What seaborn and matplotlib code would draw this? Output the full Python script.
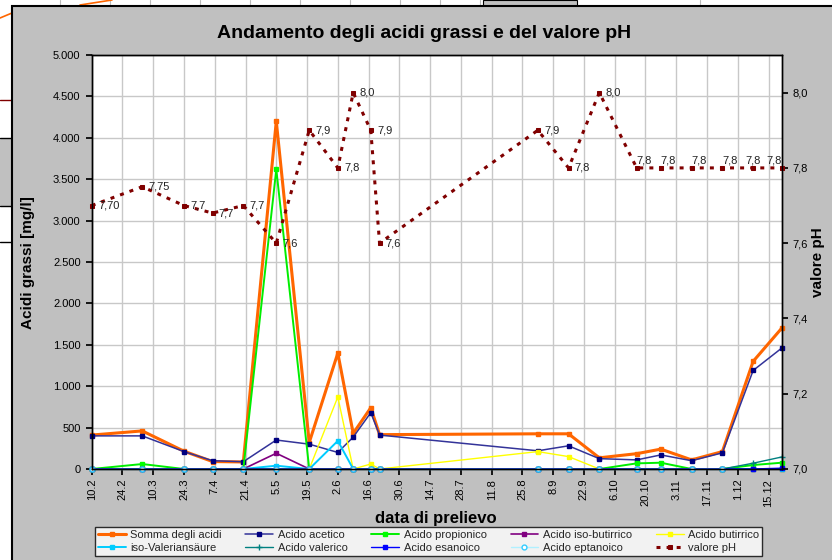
import matplotlib
matplotlib.use("Agg")
import matplotlib.pyplot as plt
import matplotlib.dates as mdates
import numpy as np
import pandas as pd
import seaborn as sns
from matplotlib.patches import Rectangle
from matplotlib.lines import Line2D

sns.set_theme(style="whitegrid")
plt.rcParams['font.family'] = ['Liberation Sans', 'DejaVu Sans']

# sampling dates (day.month)
dates = pd.to_datetime([
    "2009-02-10", "2009-03-05", "2009-03-24", "2009-04-06", "2009-04-20",
    "2009-05-05", "2009-05-20", "2009-06-02", "2009-06-09", "2009-06-17",
    "2009-06-21", "2009-09-01", "2009-09-15", "2009-09-29", "2009-10-16",
    "2009-10-27", "2009-11-10", "2009-11-24", "2009-12-08", "2009-12-21",
])

somma = [410, 460, 215, 90, 85, 4200, 320, 1400, 430, 740,
         415, 425, 425, 135, 185, 240, 110, 210, 1300, 1700]
acetico = [400, 400, 210, 100, 88, 350, 300, 200, 385, 680,
           410, 220, 280, 125, 110, 170, 100, 195, 1190, 1460]
propionico = [0, 60, 0, 0, 0, 3620, 0, 0, 0, 0,
              0, 0, 0, 0, 68, 76, 0, 0, 48, 76]
isobutirrico = [0, 0, 0, 0, 0, 190, 0, 0, 0, 0,
                0, 0, 0, 0, 0, 0, 0, 0, 0, 0]
butirrico = [0, 0, 0, 0, 0, 0, 0, 870, 0, 60,
             0, 210, 150, 0, 0, 0, 0, 0, 0, 0]
isovalerian = [0, 0, 0, 0, 0, 40, 0, 340, 0, 0,
               0, 0, 0, 0, 0, 0, 0, 0, 0, 0]
valerico = [0, 0, 0, 0, 0, 0, 0, 0, 0, 0,
            0, 0, 0, 0, 0, 0, 0, 0, 70, 145]
esanoico = [0, 0, 0, 0, 0, 0, 0, 0, 0, 0,
            0, 0, 0, 0, 0, 0, 0, 0, 0, 10]
eptanoico = [0, 0, 0, 0, 0, 0, 0, 0, 0, 0,
             0, 0, 0, 0, 0, 0, 0, 0, np.nan, np.nan]

ph = [7.70, 7.75, 7.70, 7.68, 7.70, 7.60, 7.90, 7.80, 8.00, 7.90,
      7.60, 7.90, 7.80, 8.00, 7.80, 7.80, 7.80, 7.80, 7.80, 7.80]
ph_labels = ["7,70", "7,75", "7,7", "7,7", "7,7", "7,6", "7,9", "7,8", "8,0", "7,9",
             "7,6", "7,9", "7,8", "8,0", "7,8", "7,8", "7,8", "7,8", "7,8", "7,8"]

series = [
    ("Somma degli acidi", somma, dict(color="#FF6600", lw=2.2, marker="s", ms=3.5, mfc="#FF6600", mec="#FF6600")),
    ("Acido acetico", acetico, dict(color="#333399", lw=1.1, marker="s", ms=3.5, mfc="#000080", mec="#000080")),
    ("Acido propionico", propionico, dict(color="#00EE00", lw=1.4, marker="s", ms=3.5, mfc="#00FF00", mec="#00FF00")),
    ("Acido iso-butirrico", isobutirrico, dict(color="#800080", lw=1.2, marker="s", ms=3.5, mfc="#800080", mec="#800080")),
    ("Acido butirrico", butirrico, dict(color="#FFFF00", lw=1.0, marker="s", ms=3.5, mfc="#FFFF00", mec="#FFFF00")),
    ("iso-Valeriansäure", isovalerian, dict(color="#00CCFF", lw=1.4, marker="s", ms=3.5, mfc="#00CCFF", mec="#00CCFF")),
    ("Acido valerico", valerico, dict(color="#008080", lw=1.0, marker="+", ms=5, mfc="#008080", mec="#008080")),
    ("Acido esanoico", esanoico, dict(color="#0000FF", lw=1.0, marker="s", ms=3.5, mfc="#0000FF", mec="#0000FF")),
    ("Acido eptanoico", eptanoico, dict(color="#B0F0FF", lw=1.0, marker="o", ms=3.5, mfc="white", mec="#33CCFF")),
]

fig = plt.figure(figsize=(8.32, 5.6), dpi=100, facecolor="white")

# bits of another chart peeking out behind this one
bg = dict(transform=fig.transFigure, zorder=-5)
for xp in [60, 110, 150, 200, 250, 300, 350, 400, 440, 480, 700]:
    fig.add_artist(Line2D([xp / 832, xp / 832], [1, 0.985], color="#BBBBBB", lw=0.8, **bg))
fig.add_artist(Rectangle((483 / 832, 0.985), 94 / 832, 0.015, facecolor="#C0C0C0", edgecolor="black", lw=0.8, **bg))
fig.add_artist(Rectangle((0, 1 - 206 / 560), 12 / 832, 68 / 560, facecolor="#C0C0C0", edgecolor="none", **bg))
for yp, c in [(100, "#800000"), (138, "black"), (206, "black"), (242, "black")]:
    fig.add_artist(Line2D([0, 12 / 832], [1 - yp / 560, 1 - yp / 560], color=c, lw=1, **bg))
fig.add_artist(Line2D([0, 12 / 832], [1 - 18 / 560, 1 - 13 / 560], color="#FF6600", lw=1.2, **bg))
fig.add_artist(Line2D([80 / 832, 112 / 832], [1 - 5 / 560, 1.0], color="#FF6600", lw=1.2, **bg))

# grey chart area
fig.add_artist(Rectangle((12 / 832, -0.01), 1.0, 1 - 6 / 560 + 0.01, facecolor="#C0C0C0",
                         edgecolor="black", lw=1.5, transform=fig.transFigure, zorder=-4))

ax = fig.add_axes([91.7 / 832, 1 - 469 / 560, 690 / 832, 414 / 560])
ax.set_facecolor("white")

handles = []
for name, vals, st in series:
    sns.lineplot(x=dates, y=vals, ax=ax, color=st["color"], linewidth=st["lw"],
                 marker=st["marker"], markersize=st["ms"], markerfacecolor=st["mfc"],
                 markeredgecolor=st["mec"], markeredgewidth=1, legend=False, clip_on=False)
    handles.append((ax.lines[-1], name))

ax.set_xlim(dates[0], dates[-1])
ax.set_ylim(0, 5000)
ax.set_yticks(np.arange(0, 5001, 500))
ax.yaxis.set_major_formatter(plt.FuncFormatter(lambda v, _: f"{int(v):,}".replace(",", ".")))
tick_dates = pd.date_range(dates[0], dates[-1], freq="14D")
ax.set_xticks(tick_dates)
ax.xaxis.set_major_formatter(plt.FuncFormatter(
    lambda v, _: f"{mdates.num2date(v).day}.{mdates.num2date(v).month}"))
ax.tick_params(axis="x", rotation=90, labelsize=8, bottom=True, length=4, direction="out", pad=3, colors="black")
ax.tick_params(axis="y", labelsize=8, left=True, length=4, direction="out", pad=4, colors="black")
ax.grid(True, color="#C8C8C8", lw=1)
ax.set_xlabel("")
ax.set_ylabel("")
for sp in ax.spines.values():
    sp.set_color("black")
    sp.set_linewidth(1)

ax2 = ax.twinx()
sns.lineplot(x=dates, y=ph, ax=ax2, color="#800000", linewidth=2.2, linestyle=(0, (1.3, 2.0)),
             marker="s", markersize=3.5, markerfacecolor="#800000", markeredgecolor="#800000",
             legend=False, clip_on=False)
ph_line = ax2.lines[-1]
ph_line.set_dash_capstyle("butt")
ax2.set_ylim(7.0, 8.1)
ax2.set_yticks(np.arange(7.0, 8.01, 0.2))
ax2.yaxis.set_major_formatter(plt.FuncFormatter(lambda v, _: f"{v:.1f}".replace(".", ",")))
ax2.tick_params(axis="y", labelsize=8, right=True, length=4, direction="out", pad=4, colors="black")
ax2.grid(False)
ax2.set_ylabel("")
for sp in ax2.spines.values():
    sp.set_color("black")
    sp.set_linewidth(1)

n = len(ph)
for i, (d, v, lbl) in enumerate(zip(dates, ph, ph_labels)):
    if i < 14:
        off, ha = (4.5, 0), "left"
    elif i == n - 1:
        off, ha = (0, 5.5), "right"
    elif i == n - 2:
        off, ha = (0, 5.5), "center"
    else:
        off, ha = (0, 5.5), "left"
    ax2.annotate(lbl, (d, v), xytext=off, textcoords="offset points",
                 fontsize=8, ha=ha, va="center", color="#222222")

# titles
fig.text(424 / 832, 1 - 33 / 560, "Andamento degli acidi grassi e del valore pH",
         ha="center", va="center", fontsize=14, weight="bold", color="black")
fig.text(28 / 832, 1 - 263 / 560, "Acidi grassi [mg/l]", rotation=90,
         ha="center", va="center", fontsize=11, weight="bold", color="black")
fig.text(818 / 832, 1 - 262 / 560, "valore pH", rotation=90,
         ha="center", va="center", fontsize=11, weight="bold", color="black")
fig.text(436 / 832, 1 - 519 / 560, "data di prelievo",
         ha="center", va="center", fontsize=12, weight="bold", color="black")

# legend, Excel fills it row by row -> reorder for column-wise matplotlib
all_handles = handles + [(ph_line, "valore pH")]
order = [0, 5, 1, 6, 2, 7, 3, 8, 4, 9]
leg = fig.legend([all_handles[k][0] for k in order], [all_handles[k][1] for k in order],
                 ncol=5, loc="upper center", bbox_to_anchor=(0.515, 1 - 527 / 560),
                 fontsize=8, frameon=True, fancybox=False, edgecolor="black",
                 handlelength=2.5, handletextpad=0.4, columnspacing=2.15,
                 borderpad=0.3, labelspacing=0.25, borderaxespad=0)
leg.get_frame().set_linewidth(1)
leg.get_frame().set_facecolor("white")

fig.savefig("out.png", dpi=100, facecolor="white")
